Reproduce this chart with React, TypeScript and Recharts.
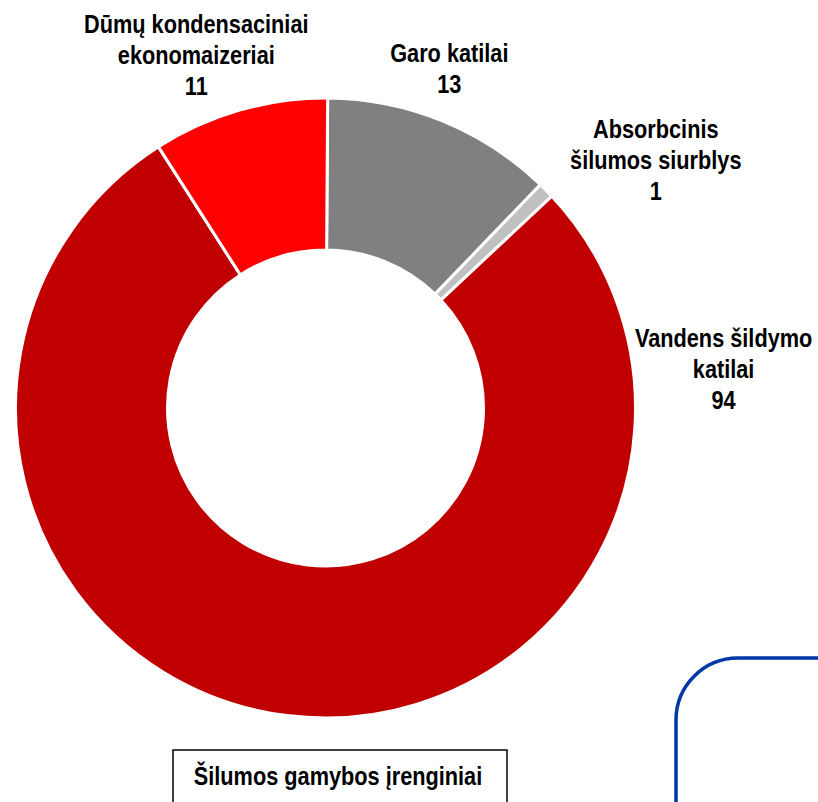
import React from "react";
import { PieChart, Pie, Cell } from "recharts";

const categories = [
  "Garo katilai",
  "Absorbcinis šilumos siurblys",
  "Vandens šildymo katilai",
  "Dūmų kondensaciniai ekonomaizeriai",
];
// numbers printed in the labels
const counts = [13, 1, 94, 11];
// slice sizes
const shares = [14.5, 1.0, 93.5, 11.0];
const labelLines = [
  ["Garo katilai"],
  ["Absorbcinis", "šilumos siurblys"],
  ["Vandens šildymo", "katilai"],
  ["Dūmų kondensaciniai", "ekonomaizeriai"],
];
const colors = ["#808080", "#C0C0C0", "#C00000", "#FF0000"];
// label block placement (polar angle in degrees, distance from centre)
const labelPlacement = [
  { angle: 70.0, r: 362 },
  { angle: 36.9, r: 413 },
  { angle: 5.6, r: 400 },
  { angle: 110.1, r: 376 },
];

const data = categories.map((name, i) => ({ name, value: shares[i], count: counts[i] }));

const FONT = "'Liberation Sans', Arial, sans-serif";
const FS = 26.5;
const SX = 0.82; // horizontal condensing to mimic a narrow face
const LINE = 31;

const NarrowText = ({ x, y, children }: { x: number; y: number; children: React.ReactNode }) => (
  <text
    transform={`translate(${x},${y}) scale(${SX},1)`}
    x={0}
    y={0}
    textAnchor="middle"
    fontFamily={FONT}
    fontSize={FS}
    fontWeight="bold"
    fill="#000"
  >
    {children}
  </text>
);

const renderLabel = (props: any) => {
  const { cx, cy, index } = props;
  const p = labelPlacement[index];
  const rad = (p.angle * Math.PI) / 180;
  const x = cx + p.r * Math.cos(rad);
  const y = cy - p.r * Math.sin(rad);
  const lines = [...labelLines[index], String(data[index].count)];
  const n = lines.length;
  return (
    <g key={`lbl-${index}`}>
      {lines.map((t, i) => (
        <NarrowText key={i} x={x} y={y + (i - (n - 1) / 2) * LINE + 9.4}>
          {t}
        </NarrowText>
      ))}
    </g>
  );
};

export default function App() {
  return (
    <div style={{ position: "absolute", left: 0, top: 0, width: 818, height: 802, overflow: "hidden", background: "#fff" }}>
      <PieChart width={818} height={802} margin={{ top: 0, right: 0, bottom: 0, left: 0 }}>
        <Pie
          data={data}
          dataKey="value"
          nameKey="name"
          cx={325.5}
          cy={408}
          innerRadius={158}
          outerRadius={310}
          startAngle={89.6}
          endAngle={-270.4}
          stroke="#ffffff"
          strokeWidth={3}
          label={renderLabel}
          labelLine={false}
          isAnimationActive={false}
        >
          {data.map((d, i) => (
            <Cell key={d.name} fill={colors[i]} />
          ))}
        </Pie>
      </PieChart>
      <svg width={818} height={802} style={{ position: "absolute", left: 0, top: 0, pointerEvents: "none" }}>
        <rect x={173} y={750} width={334} height={120} fill="none" stroke="#000" strokeWidth={1.5} />
        <NarrowText x={338} y={785}>Šilumos gamybos įrenginiai</NarrowText>
        <rect x={676} y={658} width={320} height={320} rx={62} ry={62} fill="none" stroke="#0038A8" strokeWidth={3.5} />
      </svg>
    </div>
  );
}
